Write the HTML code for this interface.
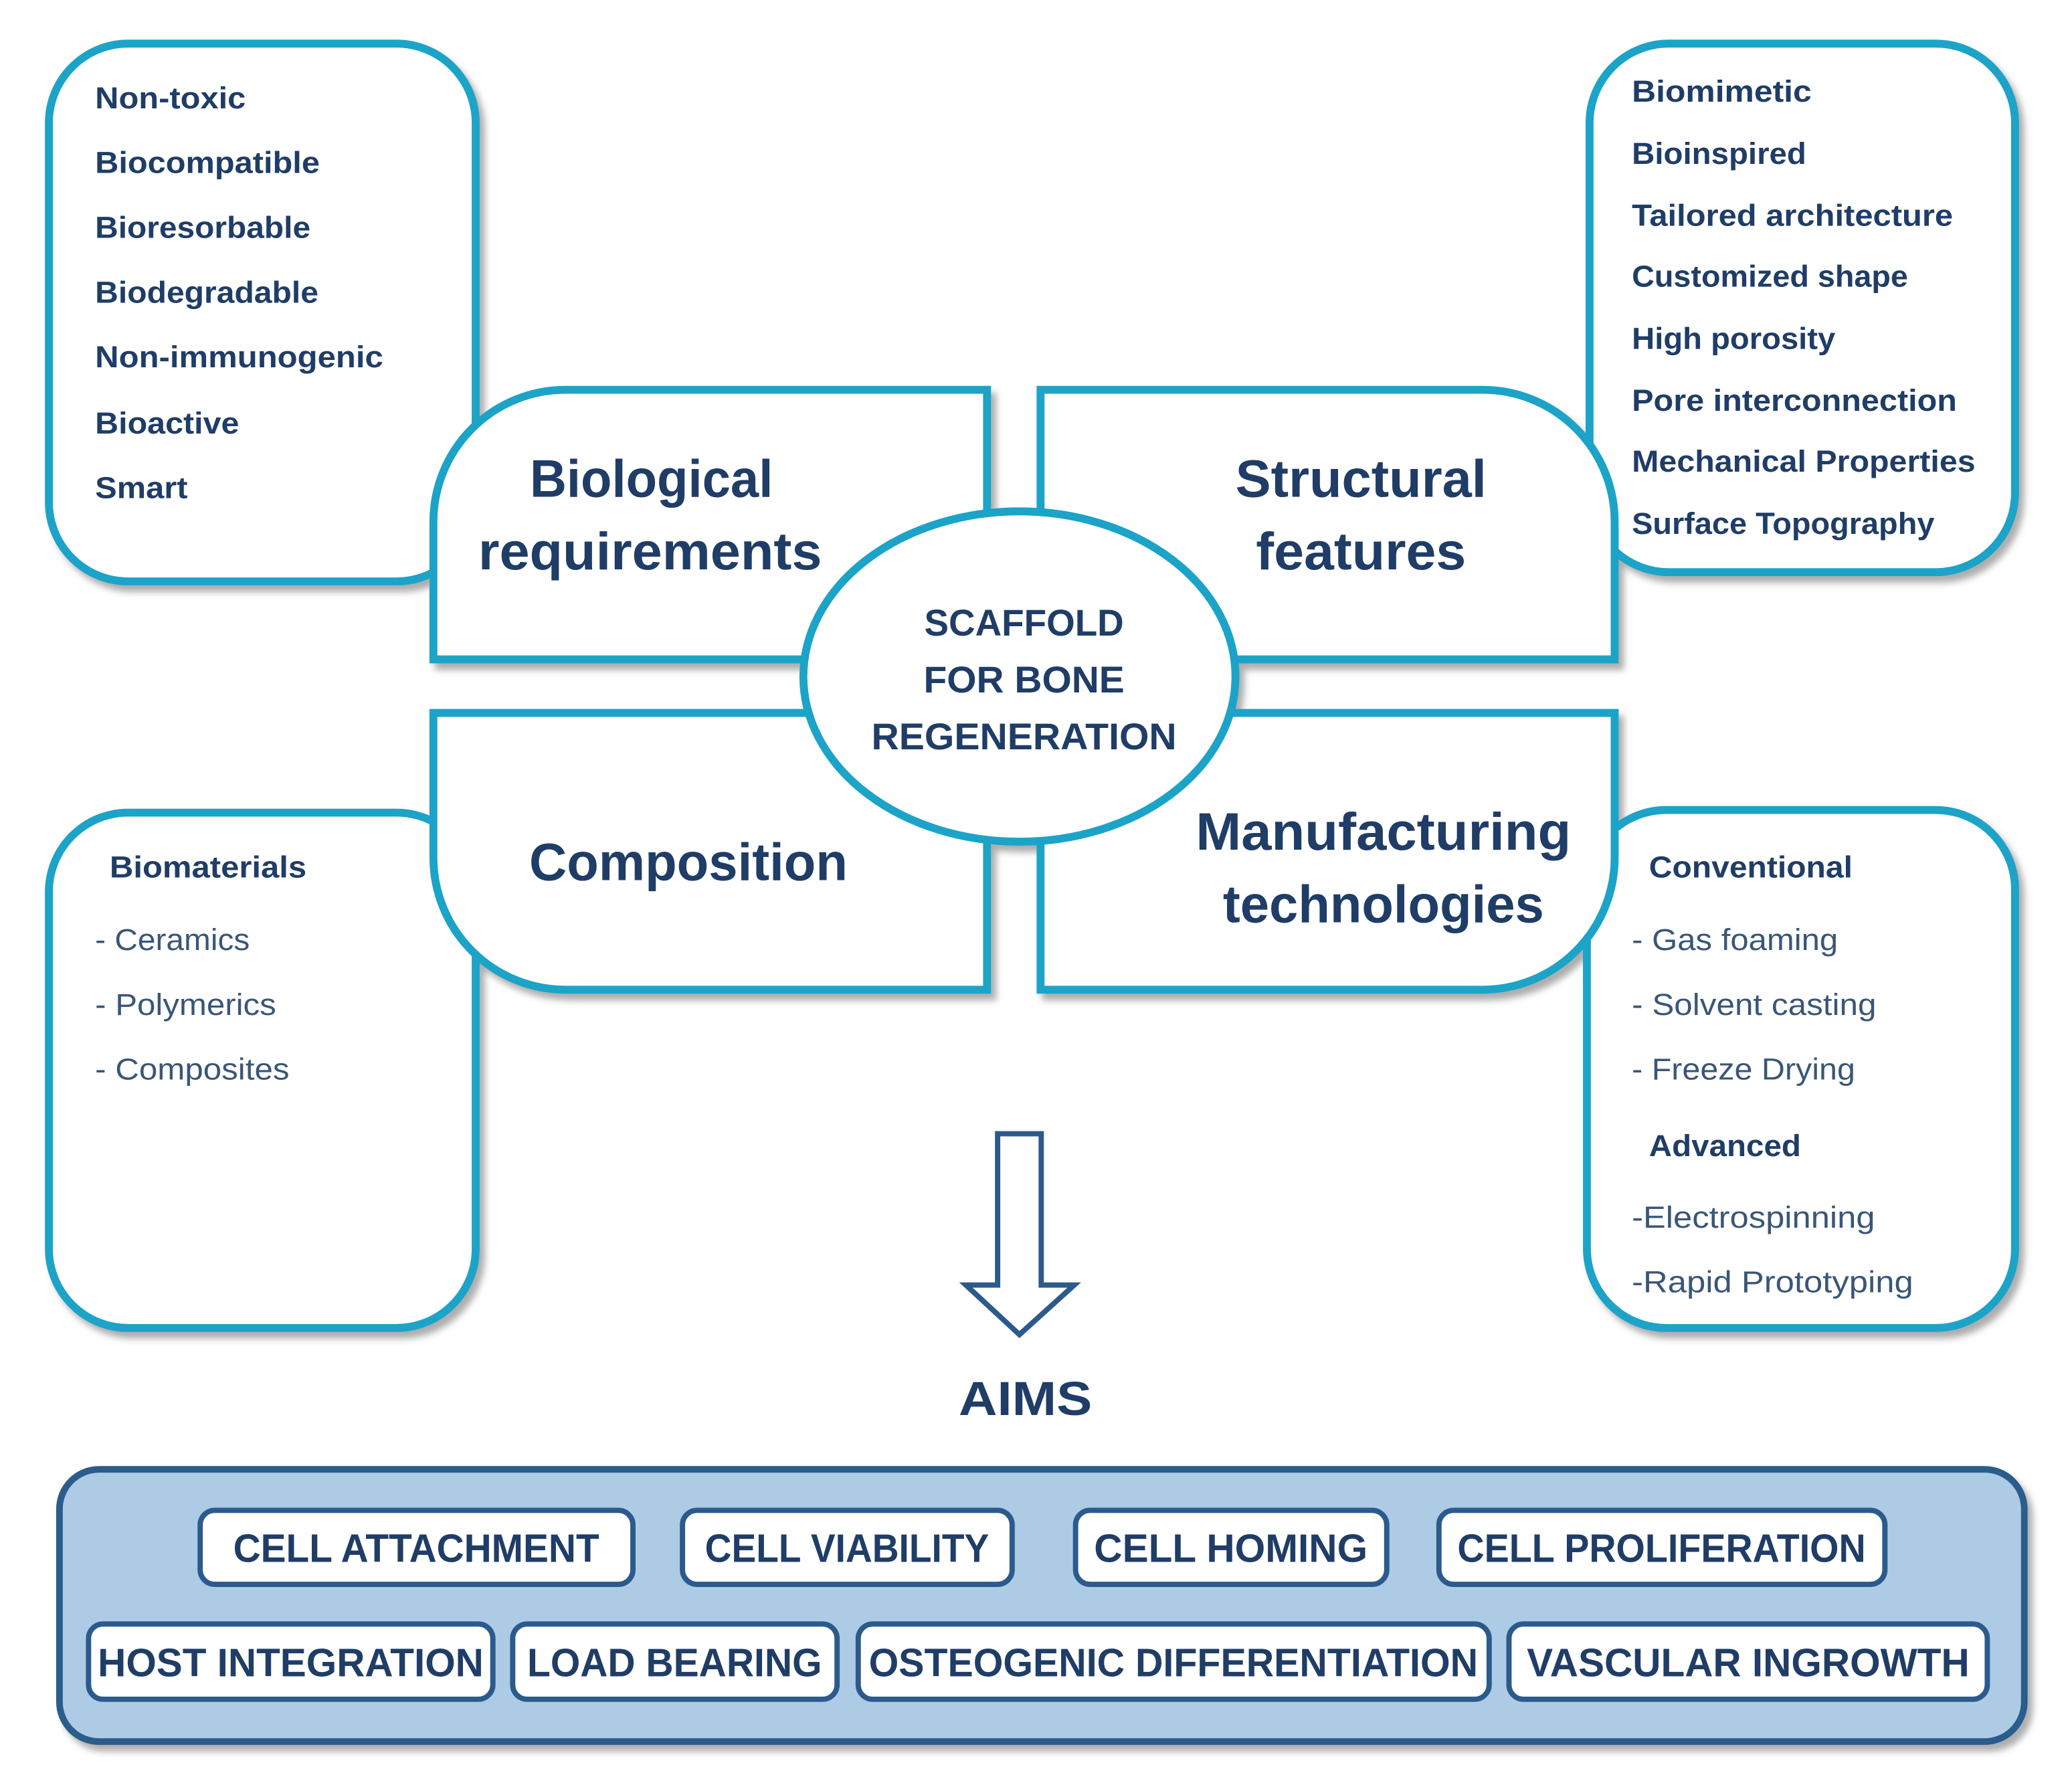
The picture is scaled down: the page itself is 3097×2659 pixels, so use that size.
<!DOCTYPE html>
<html><head><meta charset="utf-8"><style>
html,body{margin:0;padding:0;background:#fff}
svg{display:block}
text{font-family:"Liberation Sans",sans-serif;fill:#1f3d66}
.b{font-weight:bold}
</style></head><body>
<svg width="3097" height="2659" viewBox="0 0 3097 2659" xmlns="http://www.w3.org/2000/svg">
<defs>
<filter id="sh" x="-10%" y="-10%" width="130%" height="130%"><feDropShadow dx="8" dy="10" stdDeviation="5" flood-color="#777" flood-opacity="0.6"/></filter>
</defs>
<g transform="scale(0.9875)">
<g fill="#fff" stroke="#1ca3c8" stroke-width="12" filter="url(#sh)">
<rect x="74" y="66" width="646" height="814" rx="120"/>
<rect x="2406" y="66" width="644" height="800" rx="120"/>
<rect x="74" y="1230" width="646" height="780" rx="120"/>
<rect x="2402" y="1226" width="648" height="784" rx="120"/>
<path d="M656,998 L656,790 A200,200 0 0 1 856,590 L1494,590 L1494,998 Z"/>
<path d="M1575,590 L2244,590 A200,200 0 0 1 2444,790 L2444,998 L1575,998 Z"/>
<path d="M656,1079 L1494,1079 L1494,1498 L856,1498 A200,200 0 0 1 656,1298 Z"/>
<path d="M1575,1079 L2444,1079 L2444,1298 A200,200 0 0 1 2244,1498 L1575,1498 Z"/>
<ellipse cx="1543" cy="1024" rx="327" ry="250"/>
</g>
<g class="b" font-size="46">
<text x="144" y="164" textLength="228" lengthAdjust="spacingAndGlyphs">Non-toxic</text>
<text x="144" y="262" textLength="340" lengthAdjust="spacingAndGlyphs">Biocompatible</text>
<text x="144" y="360" textLength="326" lengthAdjust="spacingAndGlyphs">Bioresorbable</text>
<text x="144" y="458" textLength="338" lengthAdjust="spacingAndGlyphs">Biodegradable</text>
<text x="144" y="556" textLength="436" lengthAdjust="spacingAndGlyphs">Non-immunogenic</text>
<text x="144" y="656" textLength="218" lengthAdjust="spacingAndGlyphs">Bioactive</text>
<text x="144" y="754" textLength="140" lengthAdjust="spacingAndGlyphs">Smart</text>
<text x="2470" y="154" textLength="272" lengthAdjust="spacingAndGlyphs">Biomimetic</text>
<text x="2470" y="248" textLength="264" lengthAdjust="spacingAndGlyphs">Bioinspired</text>
<text x="2470" y="342" textLength="486" lengthAdjust="spacingAndGlyphs">Tailored architecture</text>
<text x="2470" y="434" textLength="418" lengthAdjust="spacingAndGlyphs">Customized shape</text>
<text x="2470" y="528" textLength="308" lengthAdjust="spacingAndGlyphs">High porosity</text>
<text x="2470" y="622" textLength="492" lengthAdjust="spacingAndGlyphs">Pore interconnection</text>
<text x="2470" y="714" textLength="520" lengthAdjust="spacingAndGlyphs">Mechanical Properties</text>
<text x="2470" y="808" textLength="458" lengthAdjust="spacingAndGlyphs">Surface Topography</text>
<text x="166" y="1328" textLength="298" lengthAdjust="spacingAndGlyphs">Biomaterials</text>
<text x="2496" y="1328" textLength="308" lengthAdjust="spacingAndGlyphs">Conventional</text>
<text x="2496" y="1750" textLength="230" lengthAdjust="spacingAndGlyphs">Advanced</text>
</g>
<g font-size="46">
<text x="144" y="1438" textLength="234" lengthAdjust="spacingAndGlyphs" style="fill:#3a5677">- Ceramics</text>
<text x="144" y="1536" textLength="274" lengthAdjust="spacingAndGlyphs" style="fill:#3a5677">- Polymerics</text>
<text x="144" y="1634" textLength="294" lengthAdjust="spacingAndGlyphs" style="fill:#3a5677">- Composites</text>
<text x="2470" y="1438" textLength="312" lengthAdjust="spacingAndGlyphs" style="fill:#3a5677">- Gas foaming</text>
<text x="2470" y="1536" textLength="370" lengthAdjust="spacingAndGlyphs" style="fill:#3a5677">- Solvent casting</text>
<text x="2470" y="1634" textLength="338" lengthAdjust="spacingAndGlyphs" style="fill:#3a5677">- Freeze Drying</text>
<text x="2470" y="1858" textLength="368" lengthAdjust="spacingAndGlyphs" style="fill:#3a5677">-Electrospinning</text>
<text x="2470" y="1956" textLength="426" lengthAdjust="spacingAndGlyphs" style="fill:#3a5677">-Rapid Prototyping</text>
</g>
<g class="b" font-size="80" text-anchor="middle">
<text x="986" y="752" textLength="368" lengthAdjust="spacingAndGlyphs">Biological</text>
<text x="984" y="862" textLength="520" lengthAdjust="spacingAndGlyphs">requirements</text>
<text x="2060" y="752" textLength="380" lengthAdjust="spacingAndGlyphs">Structural</text>
<text x="2060" y="862" textLength="318" lengthAdjust="spacingAndGlyphs">features</text>
<text x="1042" y="1332" textLength="482" lengthAdjust="spacingAndGlyphs">Composition</text>
<text x="2094" y="1286" textLength="568" lengthAdjust="spacingAndGlyphs">Manufacturing</text>
<text x="2094" y="1396" textLength="486" lengthAdjust="spacingAndGlyphs">technologies</text>
</g>
<g class="b" font-size="56" text-anchor="middle">
<text x="1550" y="962" textLength="302" lengthAdjust="spacingAndGlyphs">SCAFFOLD</text>
<text x="1550" y="1048" textLength="304" lengthAdjust="spacingAndGlyphs">FOR BONE</text>
<text x="1550" y="1134" textLength="462" lengthAdjust="spacingAndGlyphs">REGENERATION</text>
</g>
<path d="M1510,1716 L1576,1716 L1576,1945 L1626,1945 L1543,2020 L1462,1945 L1510,1945 Z" fill="#fff" stroke="#2c5a8a" stroke-width="8"/>
<text class="b" x="1552" y="2142" font-size="72" text-anchor="middle" textLength="202" lengthAdjust="spacingAndGlyphs">AIMS</text>
<rect x="90" y="2224" width="2974" height="412" rx="60" fill="#aecbe6" stroke="#2b5b8c" stroke-width="10" filter="url(#sh)"/>
<g fill="#fff" stroke="#2b5b8c" stroke-width="8">
<rect x="303" y="2286" width="655" height="112" rx="22"/>
<rect x="1033" y="2286" width="499" height="112" rx="22"/>
<rect x="1628" y="2286" width="471" height="112" rx="22"/>
<rect x="2178" y="2286" width="675" height="112" rx="22"/>
<rect x="134" y="2458" width="612" height="114" rx="22"/>
<rect x="776" y="2458" width="491" height="114" rx="22"/>
<rect x="1299" y="2458" width="955" height="114" rx="22"/>
<rect x="2284" y="2458" width="724" height="114" rx="22"/>
</g>
<g class="b" font-size="60" text-anchor="middle">
<text x="630" y="2364" textLength="554" lengthAdjust="spacingAndGlyphs">CELL ATTACHMENT</text>
<text x="1282" y="2364" textLength="430" lengthAdjust="spacingAndGlyphs">CELL VIABILITY</text>
<text x="1863" y="2364" textLength="414" lengthAdjust="spacingAndGlyphs">CELL HOMING</text>
<text x="2515" y="2364" textLength="618" lengthAdjust="spacingAndGlyphs">CELL PROLIFERATION</text>
<text x="440" y="2537" textLength="584" lengthAdjust="spacingAndGlyphs">HOST INTEGRATION</text>
<text x="1021" y="2537" textLength="446" lengthAdjust="spacingAndGlyphs">LOAD BEARING</text>
<text x="1776" y="2537" textLength="922" lengthAdjust="spacingAndGlyphs">OSTEOGENIC DIFFERENTIATION</text>
<text x="2646" y="2537" textLength="670" lengthAdjust="spacingAndGlyphs">VASCULAR INGROWTH</text>
</g>
</g>
</svg>
</body></html>
